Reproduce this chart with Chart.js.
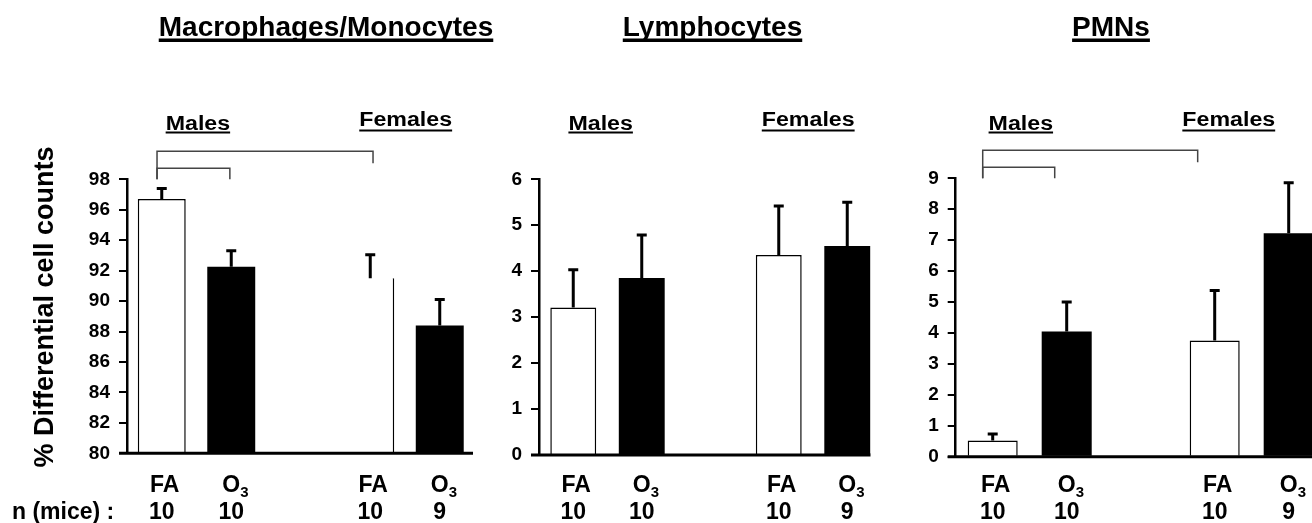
<!DOCTYPE html>
<html>
<head>
<meta charset="utf-8">
<script src="https://cdn.jsdelivr.net/npm/chart.js@4.4.1/dist/chart.umd.min.js"></script>
<style>
  html, body { margin: 0; padding: 0; background: #fff; overflow: hidden; width: 1312px; height: 523px; }
  canvas { position: absolute; left: 0; top: 0; }
</style>
</head>
<body>
<canvas id="c1" width="1340" height="523"></canvas>
<canvas id="c2" width="1340" height="523"></canvas>
<canvas id="c3" width="1340" height="523"></canvas>
<script>
// groups along x (middle slot is the gap between males and females)
const groups = ["FA", "O3", "", "FA", "O3"];
const nMice = ["10", "10", "", "10", "9"];
const sexLabels = ["Males", "Females"];

// mean and SEM (upper error only)
const macroMean = [96.7, 92.25, null, 91.5, 88.4];
const macroSem = [0.7, 1.05, null, 1.55, 1.7];
const lymphMean = [3.21, 3.85, null, 4.35, 4.55];
const lymphSem = [0.82, 0.94, null, 1.07, 0.95];
const pmnMean = [0.52, 4.05, null, 3.76, 7.22];
const pmnSem = [0.21, 0.95, null, 1.61, 1.64];

const FONT = '"Liberation Sans", Arial, sans-serif';
const W = 1340, H = 523, YW = 70;

function txt(ctx, s, x, y, size, align, sx) {
  ctx.save();
  ctx.font = `bold ${size}px ${FONT}`;
  ctx.fillStyle = "#000";
  ctx.textBaseline = "alphabetic";
  ctx.textAlign = align || "center";
  ctx.translate(x, y);
  ctx.scale(sx || 1, 1);
  ctx.fillText(s, 0, 0);
  const w = ctx.measureText(s).width * (sx || 1);
  ctx.restore();
  return w;
}

function underlined(ctx, s, x, y, size, sx, uy, uh) {
  const w = txt(ctx, s, x, y, size, "center", sx);
  ctx.fillStyle = "#000";
  ctx.fillRect(x - w / 2, uy, w, uh);
}

function catX(scale, v) {
  const p0 = scale.getPixelForValue(0);
  const p1 = scale.getPixelForValue(1);
  return p0 + v * (p1 - p0);
}

function decor(p) {
  return {
    id: "decor" + p.id,
    afterDraw(chart) {
      const ctx = chart.ctx;
      const a = chart.chartArea;
      const xs = chart.scales.x, ys = chart.scales.y;

      // x axis line
      ctx.save();
      ctx.strokeStyle = "#000";
      ctx.lineWidth = 3;
      ctx.beginPath();
      ctx.moveTo(a.left - 8, a.bottom);
      ctx.lineTo(a.right - p.axisTrim, a.bottom);
      ctx.stroke();

      // error bars (upper only)
      const meta = chart.getDatasetMeta(0);
      ctx.lineWidth = 3;
      p.mean.forEach((m, i) => {
        if (m == null) return;
        const bar = meta.data[i];
        const ey = ys.getPixelForValue(m + p.sem[i]);
        ctx.beginPath();
        ctx.moveTo(bar.x, bar.y);
        ctx.lineTo(bar.x, ey);
        ctx.moveTo(bar.x - 5, ey);
        ctx.lineTo(bar.x + 5, ey);
        ctx.stroke();
      });

      // significance brackets
      ctx.strokeStyle = "#444";
      ctx.lineWidth = 1.5;
      p.brackets.forEach(([from, to, level]) => {
        const x0 = catX(xs, from), x1 = catX(xs, to);
        const y = level === 0 ? a.top - 28 : a.top - 11;
        const drop = level === 0 ? 12 : 11;
        ctx.beginPath();
        ctx.moveTo(x0, a.top);
        ctx.lineTo(x0, y);
        ctx.lineTo(x1, y);
        ctx.lineTo(x1, y + drop);
        ctx.stroke();
      });
      ctx.restore();

      // panel title
      underlined(ctx, p.title, p.titleX, 36, 28, 1, 38.5, 3.5);

      // Males / Females
      underlined(ctx, sexLabels[0], catX(xs, p.sexAt[0]), 129.5, 20, 1.16, 131.5, 2);
      underlined(ctx, sexLabels[1], catX(xs, p.sexAt[1]), 126, 20, 1.16, 129.5, 2);

      // group labels and n
      groups.forEach((g, i) => {
        if (!g) return;
        const x = xs.getPixelForValue(i);
        if (g === "O3") {
          const w = txt(ctx, "O", x, 492, 23, "center", 1);
          txt(ctx, "3", x + w / 2, 497, 15, "left", 1);
        } else {
          txt(ctx, g, x + 3, 492, 23, "center", 1);
        }
        txt(ctx, nMice[i], x, 519, 23, "center", 1);
      });

      if (p.id === "c1") {
        txt(ctx, "n (mice) :", 12, 519, 23, "left", 1);
        ctx.save();
        ctx.translate(53, 307);
        ctx.rotate(-Math.PI / 2);
        txt(ctx, "% Differential cell counts", 0, 0, 27, "center", 1);
        ctx.restore();
      }
    }
  };
}

function makePanel(p) {
  return new Chart(document.getElementById(p.id), {
    type: "bar",
    data: {
      labels: groups,
      datasets: [{
        data: p.mean,
        backgroundColor: groups.map((g) => (g === "FA" ? "#ffffff" : "#000000")),
        borderColor: "#000",
        borderWidth: groups.map((g, i) =>
          i === p.openBar ? { top: 0, left: 0, right: 1.5, bottom: 0 } : g === "FA" ? 1.5 : 0),
        borderSkipped: "start",
        barPercentage: p.barPct,
        categoryPercentage: 1,
      }],
    },
    options: {
      responsive: false,
      animation: false,
      devicePixelRatio: 1,
      layout: {
        padding: { left: p.left - YW, right: W - p.right, top: p.top, bottom: H - p.bottom },
      },
      plugins: { legend: { display: false }, tooltip: { enabled: false } },
      scales: {
        x: { display: false, offset: true },
        y: {
          min: p.min,
          max: p.max,
          afterFit: (s) => { s.width = YW; },
          ticks: { stepSize: p.step, color: "#000", padding: 9, font: { family: FONT, size: 19, weight: "bold" } },
          border: { color: "#000", width: 2.5 },
          grid: { drawOnChartArea: false, color: "#000", lineWidth: 2, tickLength: 8 },
        },
      },
    },
    plugins: [decor(p)],
  });
}

makePanel({
  id: "c1", title: "Macrophages/Monocytes", titleX: 326,
  mean: macroMean, sem: macroSem, min: 80, max: 98, step: 2,
  left: 127, right: 474.5, top: 179.3, bottom: 453.3, barPct: 0.69, axisTrim: 1.5,
  sexAt: [0.52, 3.51], brackets: [[-0.068, 3.04, 0], [-0.068, 0.98, 1]], openBar: 3,
});
makePanel({
  id: "c2", title: "Lymphocytes", titleX: 712.5,
  mean: lymphMean, sem: lymphSem, min: 0, max: 6, step: 1,
  left: 539, right: 881.5, top: 179.3, bottom: 455, barPct: 0.67, axisTrim: 11,
  sexAt: [0.4, 3.43], brackets: [], openBar: -1,
});
makePanel({
  id: "c3", title: "PMNs", titleX: 1111,
  mean: pmnMean, sem: pmnSem, min: 0, max: 9, step: 1,
  left: 955.7, right: 1325.7, top: 178.3, bottom: 456.7, barPct: 0.676, axisTrim: 0,
  sexAt: [0.38, 3.19], brackets: [[-0.135, 2.77, 0], [-0.135, 0.838, 1]], openBar: -1,
});
</script>
</body>
</html>
